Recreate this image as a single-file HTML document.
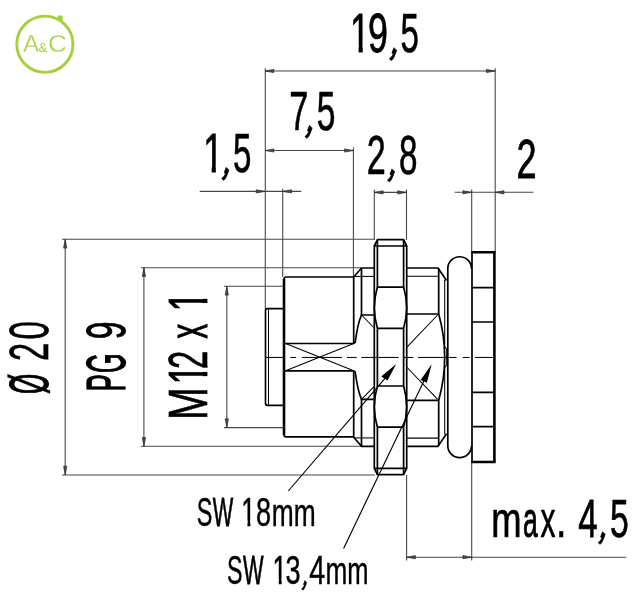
<!DOCTYPE html>
<html lang="en"><head><meta charset="utf-8">
<style>
html,body{margin:0;padding:0;background:#fff;}
body{width:637px;height:600px;overflow:hidden;}
svg{display:block;will-change:transform;}
</style></head>
<body>
<svg width="637" height="600" viewBox="0 0 637 600">
<rect width="637" height="600" fill="#fff"/>
<g stroke="#474747" stroke-width="1.1" fill="none">
<path d="M265.30,68.30 L265.30,309.00"/>
<path d="M495.20,68.30 L495.20,252.00"/>
<path d="M265.00,71.00 L495.20,71.00"/>
<path d="M265.00,150.50 L353.40,150.50"/>
<path d="M353.40,147.50 L353.40,277.00"/>
<path d="M199.70,191.40 L301.30,191.40"/>
<path d="M282.70,188.70 L282.70,277.00"/>
<path d="M374.30,189.50 L374.30,240.00"/>
<path d="M406.50,189.50 L406.50,240.00"/>
<path d="M374.30,192.40 L406.50,192.40"/>
<path d="M454.70,192.30 L533.30,192.30"/>
<path d="M471.70,189.50 L471.70,252.00"/>
<path d="M65.20,239.30 L65.20,475.00"/>
<path d="M62.00,239.30 L374.30,239.30"/>
<path d="M62.00,475.00 L375.00,475.00"/>
<path d="M143.90,267.70 L143.90,446.30"/>
<path d="M141.00,267.70 L361.30,267.70"/>
<path d="M141.00,446.30 L361.50,446.30"/>
<path d="M226.80,286.30 L226.80,427.60"/>
<path d="M224.00,286.30 L283.00,286.30"/>
<path d="M224.00,427.60 L283.00,427.60"/>
<path d="M406.60,475.00 L406.60,560.50"/>
<path d="M471.70,462.00 L471.70,560.50"/>
<path d="M406.60,557.20 L626.30,557.20"/>
</g>
<g fill="#4a4a4a" stroke="#2e2e2e" stroke-width="0.7">
<path d="M265.00,71.00 L273.80,69.40 L273.80,72.60 Z"/>
<path d="M495.20,71.00 L486.40,72.60 L486.40,69.40 Z"/>
<path d="M265.00,150.50 L273.80,148.90 L273.80,152.10 Z"/>
<path d="M353.40,150.50 L344.60,152.10 L344.60,148.90 Z"/>
<path d="M265.00,191.40 L256.20,193.00 L256.20,189.80 Z"/>
<path d="M282.70,191.40 L291.50,189.80 L291.50,193.00 Z"/>
<path d="M374.30,192.40 L383.10,190.80 L383.10,194.00 Z"/>
<path d="M406.50,192.40 L397.70,194.00 L397.70,190.80 Z"/>
<path d="M471.70,192.30 L462.90,193.90 L462.90,190.70 Z"/>
<path d="M495.20,192.30 L504.00,190.70 L504.00,193.90 Z"/>
<path d="M65.20,239.30 L66.80,248.10 L63.60,248.10 Z"/>
<path d="M65.20,475.00 L63.60,466.20 L66.80,466.20 Z"/>
<path d="M143.90,267.70 L145.50,276.50 L142.30,276.50 Z"/>
<path d="M143.90,446.30 L142.30,437.50 L145.50,437.50 Z"/>
<path d="M226.80,286.30 L228.40,295.10 L225.20,295.10 Z"/>
<path d="M226.80,427.60 L225.20,418.80 L228.40,418.80 Z"/>
<path d="M406.60,557.20 L415.40,555.60 L415.40,558.80 Z"/>
<path d="M471.70,557.20 L462.90,558.80 L462.90,555.60 Z"/>
</g>
<g stroke="#000" stroke-width="1.70" fill="none" stroke-linejoin="round" stroke-linecap="butt">
<path d="M284,308.7 H267.5 Q265.5,308.7 265.5,310.7 V403.3 Q265.5,405.3 267.5,405.3 H284"/>
<path d="M268.5,309.3 V404.7" stroke-width="1.05"/>
<path d="M353.7,277 H286.2 Q284,277 284,279.2 V434.7 Q284,436.9 286.2,436.9 H353.7"/>
<path d="M284,279 V435" stroke-width="2.6"/>
<path d="M353.7,277 V343.4 M353.7,370.90 V436.9"/>
<path d="M284.5,343.5 H354 M284.5,370.80 H354"/>
<path d="M285.6,343.5 L353.7,370.80 M285.6,370.80 L353.7,343.5" stroke-width="1.05"/>
<path d="M353.7,277 L361.5,268 H374.3"/>
<path d="M361.5,268 V315 H374.3"/>
<path d="M353.7,276.4 H374.3" stroke-width="1.05"/>
<path d="M361.5,315 C359.2,320 357,329 355.2,342.3 L353.7,343.4"/>
<path d="M361.5,315 L373.8,327.5" stroke-width="1.05"/>
<path d="M353.7,437.3 L361.5,446.3 H374.3"/>
<path d="M361.5,446.3 V399.3 H374.3"/>
<path d="M353.7,437.9 H374.3" stroke-width="1.05"/>
<path d="M361.5,399.3 C359.2,394.3 357,385.3 355.2,372.0 L353.7,370.9"/>
<path d="M361.5,399.3 L373.8,386.8" stroke-width="1.05"/>
<path d="M377.4,239.7 H403.6 L406.7,246 V468.3 L403.6,474.6 H377.4 L374.3,468.3 V246 Z"/>
<path d="M374.3,246 H406.7 M374.3,468.3 H406.7"/>
<path d="M377.4,287.1 H403.6 M377.4,427.2 H403.6"/>
<path d="M377.4,328.3 H403.6 M377.4,386.0 H403.6"/>
<path d="M377.4,239.7 V287.1 M403.6,239.7 V287.1 M377.4,328.3 V386.0 M403.6,328.3 V386.0 M377.4,427.2 V474.6 M403.6,427.2 V474.6"/>
<path d="M377.4,287.1 Q371.3,307.7 377.4,328.3"/>
<path d="M403.6,287.1 Q409.7,307.7 403.6,328.3"/>
<path d="M377.4,427.2 Q371.3,406.6 377.4,386.0"/>
<path d="M403.6,427.2 Q409.7,406.6 403.6,386.0"/>
<path d="M406.7,268 H438 L446.5,280.5"/>
<path d="M406.7,276.2 H438.7" stroke-width="1.05"/>
<path d="M438.7,268.5 V314 H406.7"/>
<path d="M437.6,315 L406.7,347.3" stroke-width="1.05"/>
<path d="M406.7,446.3 H438 L446.5,433.8"/>
<path d="M406.7,438.1 H438.7" stroke-width="1.05"/>
<path d="M438.7,445.8 V400.3 H406.7"/>
<path d="M437.6,399.3 L406.7,367.0" stroke-width="1.05"/>
<path d="M438.7,314 Q450.7,357.15 438.7,400.3"/>
<path d="M444.7,279.7 V346.7 L446.7,349.3 V365.0 L444.7,367.6 V434.6" stroke-width="1.05"/>
<path d="M447.8,445.7 V268.6 A11.85,11.85 0 0 1 471.5,268.6 M447.8,445.7 A11.85,11.85 0 0 0 471.5,445.7"/>
<path d="M472,252.3 V462.0"/>
<path d="M471.3,252.3 H495.6 M471.3,462.0 H495.6" stroke-width="2.6"/>
<path d="M494.4,252.3 V462.0" stroke-width="2.6"/>
<path d="M472,287.6 H494 M472,426.7 H494"/>
<path d="M472,322 H494 M472,392.3 H494"/>
</g>
<g stroke="#000" stroke-width="0.85" fill="none">
<path d="M265.2,357.45 H284 M290.3,357.45 H296.1 M302,357.45 H342 M347,357.45 H356.7 M361.3,357.45 H398.7 M403,357.45 H413.3 M418,357.45 H456.5 M462.7,357.45 H469.7 M475,357.45 H493.3" stroke-width="1.0"/>
<path d="M288.3,491 L385,378.4" stroke-width="1.15"/>
<path d="M343.6,548.4 L423.9,381" stroke-width="1.15"/>
</g>
<g fill="#000" stroke="none">
<path d="M396.2,364 L381.3,376.6 L387.5,380.6 Z"/>
<path d="M431.7,364.2 L420.6,379.9 L426.9,382.8 Z"/>
</g>
<g font-family="'Liberation Sans', Arial, sans-serif" fill="#000">
<text transform="translate(0,52.40) scale(0.6450,1)" x="542.76 570.62 603.18 620.97" y="0 0 -2.2 0" font-size="55.50" stroke="#000" stroke-width="0.70" vector-effect="non-scaling-stroke">19<tspan rotate="30">,</tspan><tspan textLength="28.56" lengthAdjust="spacingAndGlyphs">5</tspan></text>
<text transform="translate(0,130.30) scale(0.6450,1)" x="448.53 472.17 491.02" y="0 -2.2 0" font-size="55.50" stroke="#000" stroke-width="0.70" vector-effect="non-scaling-stroke"><tspan textLength="29.56" lengthAdjust="spacingAndGlyphs">7</tspan><tspan rotate="30">,</tspan><tspan textLength="28.92" lengthAdjust="spacingAndGlyphs">5</tspan></text>
<text transform="translate(0,172.20) scale(0.6450,1)" x="315.01 343.18 361.12" y="0 -2.2 0" font-size="55.50" stroke="#000" stroke-width="0.70" vector-effect="non-scaling-stroke">1<tspan rotate="30">,</tspan><tspan textLength="28.56" lengthAdjust="spacingAndGlyphs">5</tspan></text>
<text transform="translate(0,173.60) scale(0.6450,1)" x="568.74 599.92 618.48" y="0 -2.2 0" font-size="55.50" stroke="#000" stroke-width="0.70" vector-effect="non-scaling-stroke"><tspan textLength="29.50" lengthAdjust="spacingAndGlyphs">2</tspan><tspan rotate="30">,</tspan><tspan textLength="28.62" lengthAdjust="spacingAndGlyphs">8</tspan></text>
<text transform="translate(0,177.90) scale(0.6450,1)" x="800.94" y="0" font-size="56.00" stroke="#000" stroke-width="0.70" vector-effect="non-scaling-stroke">2</text>
<text transform="translate(0,536.50) scale(0.6450,1)" x="761.78 810.76 837.81 861.92 878.07 896.62 926.90 945.74" y="0 0 0 0 0 0 -2.2 0" font-size="54.00" stroke="#000" stroke-width="0.70" vector-effect="non-scaling-stroke"><tspan font-size="49.68"><tspan textLength="46.98" lengthAdjust="spacingAndGlyphs">m</tspan><tspan textLength="22.81" lengthAdjust="spacingAndGlyphs" stroke-width="1.05">a</tspan><tspan textLength="23.24" lengthAdjust="spacingAndGlyphs">x</tspan><tspan textLength="16.15" lengthAdjust="spacingAndGlyphs">.</tspan></tspan> 4<tspan rotate="30">,</tspan><tspan textLength="29.11" lengthAdjust="spacingAndGlyphs">5</tspan></text>
<text transform="translate(0,525.70) scale(0.6200,1)" x="317.18 343.09 376.06 389.24 412.84 438.21 473.69" y="0" font-size="41.50" stroke="#000" stroke-width="0.45" vector-effect="non-scaling-stroke"><tspan textLength="25.16" lengthAdjust="spacingAndGlyphs">S</tspan><tspan textLength="32.97" lengthAdjust="spacingAndGlyphs" stroke-width="0.77">W</tspan> 1<tspan textLength="24.33" lengthAdjust="spacingAndGlyphs">8</tspan><tspan font-size="38.18"><tspan textLength="35.36" lengthAdjust="spacingAndGlyphs">m</tspan><tspan textLength="35.36" lengthAdjust="spacingAndGlyphs">m</tspan></tspan></text>
<text transform="translate(0,584.40) scale(0.6200,1)" x="366.06 391.96 425.09 439.72 460.48 486.05 498.98 525.16 560.23" y="0 0 0 0 0 -1.8 0 0 0" font-size="41.50" stroke="#000" stroke-width="0.45" vector-effect="non-scaling-stroke"><tspan textLength="24.98" lengthAdjust="spacingAndGlyphs">S</tspan><tspan textLength="33.13" lengthAdjust="spacingAndGlyphs" stroke-width="0.76">W</tspan> 1<tspan textLength="24.32" lengthAdjust="spacingAndGlyphs">3</tspan><tspan rotate="30">,</tspan><tspan textLength="25.72" lengthAdjust="spacingAndGlyphs">4</tspan><tspan font-size="38.18"><tspan textLength="35.17" lengthAdjust="spacingAndGlyphs">m</tspan><tspan textLength="34.21" lengthAdjust="spacingAndGlyphs">m</tspan></tspan></text>
<text transform="translate(48.30,0) rotate(-90) scale(0.6450,1)" x="-610.79 -579.49 -559.82 -526.26" y="0" font-size="55.50" stroke="#000" stroke-width="0.70" vector-effect="non-scaling-stroke"><tspan textLength="31.30" lengthAdjust="spacingAndGlyphs" stroke-width="1.25">Ø</tspan> <tspan textLength="28.17" lengthAdjust="spacingAndGlyphs">2</tspan><tspan textLength="28.50" lengthAdjust="spacingAndGlyphs">0</tspan></text>
<text transform="translate(124.80,0) rotate(-90) scale(0.6450,1)" x="-606.57 -578.17 -547.68 -526.12" y="0" font-size="56.00" stroke="#000" stroke-width="0.70" vector-effect="non-scaling-stroke"><tspan textLength="26.34" lengthAdjust="spacingAndGlyphs" stroke-width="1.29">P</tspan><tspan textLength="30.49" lengthAdjust="spacingAndGlyphs" stroke-width="1.30">G</tspan> <tspan textLength="27.53" lengthAdjust="spacingAndGlyphs" stroke-width="0.93">9</tspan></text>
<text transform="translate(207.30,0) rotate(-90) scale(0.6450,1)" x="-651.12 -596.31 -571.93 -543.57 -524.65 -501.98 -482.98" y="0" font-size="55.50" stroke="#000" stroke-width="0.70" vector-effect="non-scaling-stroke"><tspan textLength="50.77" lengthAdjust="spacingAndGlyphs">M</tspan>1<tspan textLength="28.36" lengthAdjust="spacingAndGlyphs">2</tspan> <tspan textLength="22.67" lengthAdjust="spacingAndGlyphs" stroke-width="1.07">x</tspan> 1</text>
</g>
<g fill="#fff" stroke="none">
<rect x="350.65" y="45.46" width="7.92" height="8.44"/>
<rect x="362.74" y="45.46" width="6.66" height="8.44"/>
<rect x="203.75" y="165.26" width="7.92" height="8.44"/>
<rect x="215.84" y="165.26" width="6.16" height="8.44"/>
<rect x="241.60" y="520.51" width="5.86" height="6.69"/>
<rect x="250.40" y="520.51" width="5.45" height="6.69"/>
<rect x="272.90" y="579.21" width="5.86" height="6.69"/>
<rect x="281.70" y="579.21" width="4.50" height="6.69"/>
<rect x="200.36" y="376.13" width="8.44" height="7.92"/>
<rect x="200.36" y="367.70" width="8.44" height="4.26"/>
<rect x="200.36" y="303.03" width="8.44" height="7.92"/>
<rect x="200.36" y="291.51" width="8.44" height="7.35"/>
</g>
<g>
<circle cx="44.85" cy="44.25" r="28.1" fill="none" stroke="#a9cf40" stroke-width="2.9"/>
<circle cx="60.2" cy="17.9" r="2.7" fill="#a9cf40"/>
<text font-family="'Liberation Sans', Arial, sans-serif" fill="#a9cf40" stroke="#fff" stroke-width="0.35" font-size="24.3" y="51.8" x="23 38.6 48.1">A<tspan font-size="13.4" stroke="none">&amp;</tspan><tspan textLength="19" lengthAdjust="spacingAndGlyphs">C</tspan></text>
</g>
</svg>
</body></html>
